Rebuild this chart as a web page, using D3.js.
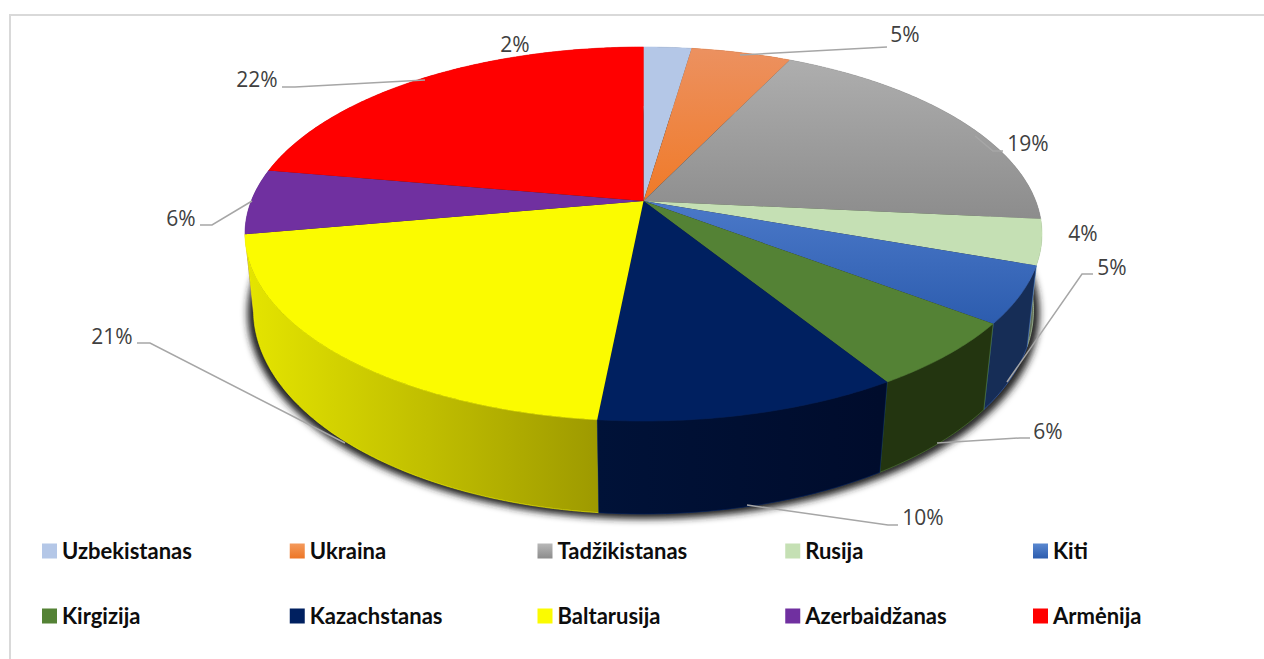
<!DOCTYPE html>
<html>
<head>
<meta charset="utf-8">
<script src="https://cdn.jsdelivr.net/npm/d3@7"></script>
<style>
  html, body { margin: 0; padding: 0; background: #fff; overflow: hidden; }
  .pct { font-family: "Open Sans", sans-serif; font-size: 21px; fill: #404040; }
  .leg { font-family: Lato, sans-serif; font-weight: 700; font-size: 22px; fill: #0d0d0d; }
</style>
</head>
<body>
<svg id="chart" width="1264" height="659"></svg>
<script>
////////////////////////////////////////////////////////////////////////////////
// Data
var countries = ["Uzbekistanas", "Ukraina", "Tadžikistanas", "Rusija", "Kiti",
                 "Kirgizija", "Kazachstanas", "Baltarusija", "Azerbaidžanas", "Armėnija"]
var shares = [2.3, 4.8, 19.4, 3.9, 4.9, 5.8, 10.4, 20.6, 5.6, 22.2]

// Colours
var topColors = ["#b4c7e7", "#f08040", "#a0a0a0", "#c5e0b4", "#3a68c0",
                 "#548235", "#002060", "#fbfb00", "#7030a0", "#ff0000"]
var sideColors = ["#5a6473", "#773e1a", "#555555", "#62705a", "#162d56",
                  "#233510", "#001033", "#c4c400", "#381850", "#800000"]

// Label layout: text centre, then the leader line
var labelPos = [[515, 44], [905, 34], [1028, 143], [1083, 233], [1112, 267],
                [1048, 431], [923, 517], [112, 336], [181, 218], [257, 79]]
var leaders = [
  null,
  [[740, 55], [887, 47]],
  [[975, 136], [993, 151], [1003, 151]],
  null,
  [[1007, 382], [1082, 274], [1093, 274]],
  [[937, 443], [1020, 438], [1030, 438]],
  [[747, 505], [888, 525], [898, 525]],
  [[345, 443], [150, 343], [137, 343]],
  [[252, 201], [212, 225], [200, 225]],
  [[425, 80], [295, 87], [282, 87]]
]

////////////////////////////////////////////////////////////////////////////////
// Tilted disc, top and bottom rims. "a" moves the pie centre off the ellipse centre.
var upper = { cx: 643.5, cy: 234, rx: 398.5, ry: 187, a: -0.176 }
var lower = { cx: 643.5, cy: 310, rx: 390, ry: 204, a: -0.165 }

function project(disc, angle) {
  var u = Math.sin(angle)
  var v = -Math.cos(angle)
  var d = 1 + disc.a * v
  return [disc.cx + disc.rx * u * Math.sqrt(1 - disc.a * disc.a) / d,
          disc.cy + disc.ry * (v + disc.a) / d]
}

function arcAngles(s) {
  var n = Math.ceil((s.endAngle - s.startAngle) / 0.01)
  return d3.range(n + 1).map(i => s.startAngle + (s.endAngle - s.startAngle) * i / n)
}

var svg = d3.select("#chart")
var defs = svg.append("defs")
var line = d3.line()
var slices = d3.pie().sort(null).value(d => d)(shares)
slices.forEach((s, i) => s.index = i)

function gradient(id, units, x1, y1, x2, y2, from, to) {
  var g = defs.append("linearGradient").attr("id", id)
    .attr("gradientUnits", units)
    .attr("x1", x1).attr("y1", y1).attr("x2", x2).attr("y2", y2)
  g.append("stop").attr("offset", 0).attr("stop-color", from)
  g.append("stop").attr("offset", 1).attr("stop-color", to)
}
var onPage = "userSpaceOnUse"
var onBox = "objectBoundingBox"
gradient("gUkr", onPage, 0, 48, 0, 200, "#ec9160", "#f07a28")
gradient("gTad", onPage, 0, 60, 0, 220, "#aeaeae", "#8c8c8c")
gradient("gKiti", onPage, 0, 205, 0, 325, "#4a78c8", "#2c5cae")
gradient("gBal", onPage, 250, 0, 597, 0, "#e4e400", "#9e9a00")
gradient("gKaz", onPage, 597, 0, 881, 0, "#001238", "#000c2c")
gradient("lUkr", onBox, 0, 0, 0, 1, "#f49a5c", "#ed7626")
gradient("lTad", onBox, 0, 0, 0, 1, "#b8b8b8", "#8c8c8c")
gradient("lKiti", onBox, 0, 0, 0, 1, "#5a88d0", "#2c5cae")
defs.append("filter").attr("id", "blur")
  .attr("x", "-5%").attr("y", "-5%").attr("width", "110%").attr("height", "110%")
  .append("feGaussianBlur").attr("stdDeviation", 3.5)

var topFill = topColors.slice()
topFill[1] = "url(#gUkr)"
topFill[2] = "url(#gTad)"
topFill[4] = "url(#gKiti)"
var sideFill = sideColors.slice()
sideFill[6] = "url(#gKaz)"
sideFill[7] = "url(#gBal)"
var legendFill = topColors.slice()
legendFill[1] = "url(#lUkr)"
legendFill[2] = "url(#lTad)"
legendFill[4] = "url(#lKiti)"

// frame
svg.append("path")
  .attr("d", "M10,659V15H1264")
  .attr("fill", "none").attr("stroke", "#d9d9d9").attr("stroke-width", 2)

// drop shadow under the disc
svg.append("ellipse")
  .attr("cx", lower.cx).attr("cy", lower.cy + 3)
  .attr("rx", lower.rx + 6).attr("ry", lower.ry + 2)
  .attr("fill", "#222").attr("filter", "url(#blur)")

// walls, the ones nearest the viewer painted last
var mid = s => (s.startAngle + s.endAngle) / 2
svg.append("g").selectAll("path")
  .data(slices.slice().sort((p, q) => Math.abs(mid(q) - Math.PI) - Math.abs(mid(p) - Math.PI)))
  .join("path")
  .attr("d", s => {
    var angles = arcAngles(s)
    var rim = angles.map(a => project(upper, a))
    var base = angles.slice().reverse().map(a => project(lower, a))
    return line(rim.concat(base)) + "Z"
  })
  .attr("fill", s => sideFill[s.index])
  .attr("stroke", s => topColors[s.index])
  .attr("stroke-width", 0.6)

// top faces
svg.append("g").selectAll("path")
  .data(slices)
  .join("path")
  .attr("d", s => {
    var apex = [upper.cx, upper.cy + upper.a * upper.ry]
    return line([apex].concat(arcAngles(s).map(a => project(upper, a)))) + "Z"
  })
  .attr("fill", s => topFill[s.index])

// leader lines
svg.append("g").selectAll("path")
  .data(leaders.filter(d => d))
  .join("path")
  .attr("d", d => line(d))
  .attr("fill", "none")
  .attr("stroke", "#a6a6a6")
  .attr("stroke-width", 1.5)

// percent labels
svg.append("g").selectAll("text")
  .data(shares)
  .join("text")
  .attr("class", "pct")
  .attr("x", (d, i) => labelPos[i][0])
  .attr("y", (d, i) => labelPos[i][1])
  .attr("text-anchor", "middle")
  .attr("dominant-baseline", "central")
  .text(d => d3.format(".0f")(d) + "%")

// legend, two rows of five
var legendX = d3.scaleLinear().domain([0, 5]).range([42, 1280.75])
var legendY = d3.scaleLinear().domain([0, 1]).range([551, 616])
var legend = svg.append("g").selectAll("g")
  .data(countries)
  .join("g")
  .attr("transform", (d, i) => "translate(" + legendX(i % 5) + "," + legendY(Math.floor(i / 5)) + ")")
legend.append("rect")
  .attr("x", 0).attr("y", -7.5).attr("width", 15).attr("height", 15)
  .attr("fill", (d, i) => legendFill[i])
legend.append("text")
  .attr("class", "leg")
  .attr("x", 20).attr("y", -1)
  .attr("dominant-baseline", "central")
  .text(d => d)
</script>
</body>
</html>
